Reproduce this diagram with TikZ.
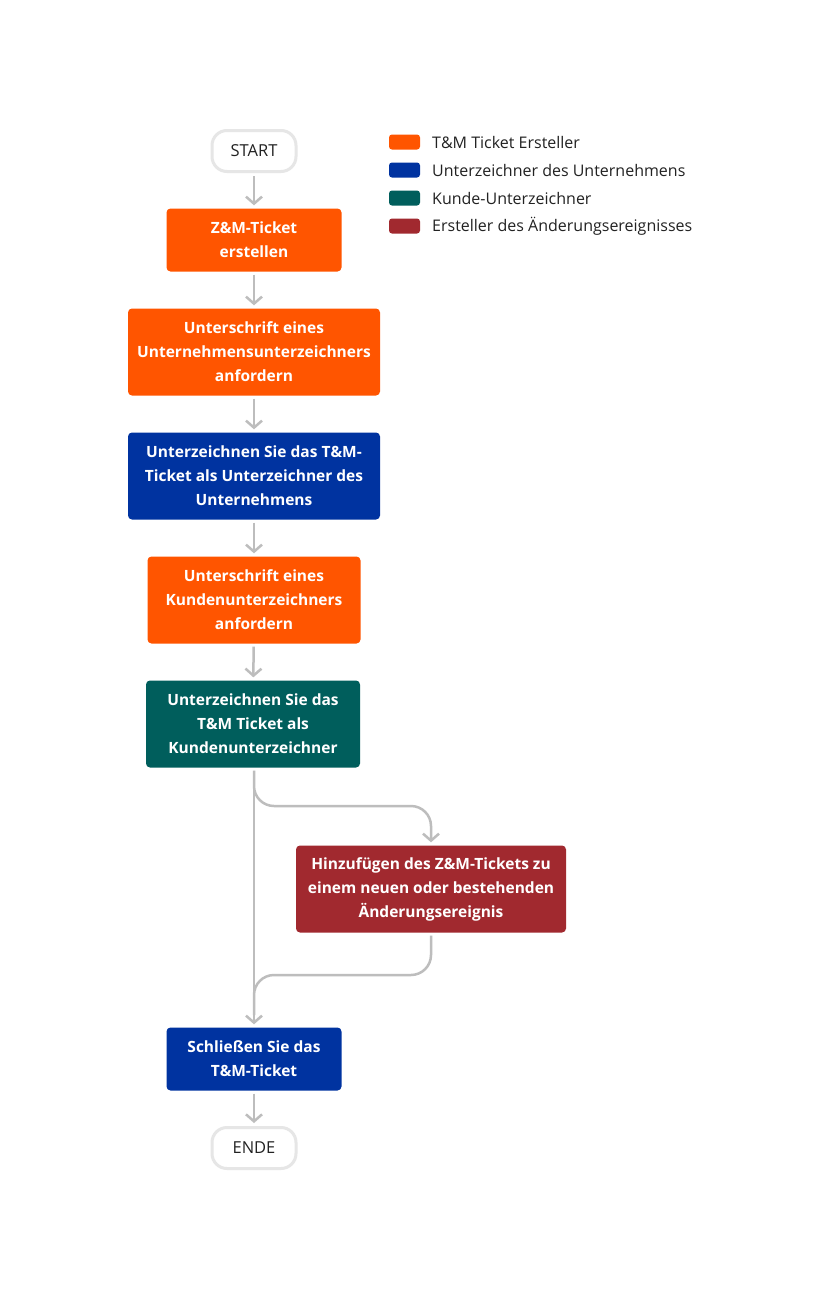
\documentclass[tikz,border=0pt]{standalone}
\usepackage{fontspec}
\setmainfont{Open Sans}
\usetikzlibrary{arrows.meta,calc}
\definecolor{orng}{HTML}{FF5500}
\definecolor{blu}{HTML}{0033A0}
\definecolor{teal2}{HTML}{005E5C}
\definecolor{redd}{HTML}{A1292F}
\definecolor{lgray}{HTML}{BDBDBD}
\definecolor{pill}{HTML}{E6E6E6}
\definecolor{txt}{HTML}{222222}
\begin{document}
\begin{tikzpicture}[x=1pt,y=-1pt,
  box/.style={rounded corners=4pt,text=white,font=\bfseries\fontsize{15.5}{24}\selectfont,align=center,inner sep=0pt},
  term/.style={draw=pill,line width=3pt,rounded corners=15pt,fill=white,text=txt,font=\fontsize{16.5}{18}\selectfont,minimum width=84pt,minimum height=41pt,inner sep=0pt},
  arr/.style={draw=lgray,line width=2.5pt,-{Straight Barb[length=7pt,width=16pt,line width=2.5pt]},shorten >=3pt,shorten <=3pt},
  ln/.style={draw=lgray,line width=2.5pt},
  sw/.style={rounded corners=3pt,minimum width=31pt,minimum height=15pt,inner sep=0pt},
  lg/.style={anchor=west,text=txt,font=\fontsize{16}{18}\selectfont,inner sep=0pt}]
\useasboundingbox (0,0) rectangle (824,1299);
\fill[white] (0,0) rectangle (824,1299);

\node[term] (start) at (254,151) {START};
\node[box,fill=orng,minimum width=175pt,minimum height=63pt] (b1) at (254,240) {Z\&M-Ticket\\erstellen};
\node[box,fill=orng,minimum width=252pt,minimum height=87pt] (b2) at (254,352) {Unterschrift eines\\Unternehmensunterzeichners\\anfordern};
\node[box,fill=blu,minimum width=252pt,minimum height=87pt] (b3) at (254,476) {Unterzeichnen Sie das T\&M-\\Ticket als Unterzeichner des\\Unternehmens};
\node[box,fill=orng,minimum width=213pt,minimum height=87pt] (b4) at (254,600) {Unterschrift eines\\Kundenunterzeichners\\anfordern};
\node[box,fill=teal2,minimum width=214pt,minimum height=87pt] (b5) at (253,724) {Unterzeichnen Sie das\\T\&M Ticket als\\Kundenunterzeichner};
\node[box,fill=redd,minimum width=270pt,minimum height=87pt] (b6) at (431,889) {Hinzufügen des Z\&M-Tickets zu\\einem neuen oder bestehenden\\Änderungsereignis};
\node[box,fill=blu,minimum width=175pt,minimum height=63pt] (b7) at (254,1059) {Schließen Sie das\\T\&M-Ticket};
\node[term] (end) at (254,1148) {ENDE};

\draw[arr] (start) -- (b1);
\draw[arr] (b1) -- (b2);
\draw[arr] (b2) -- (b3);
\draw[arr] (b3) -- (b4);
\draw[arr] (b4) -- (b5);
\draw[arr] (b7) -- (end);
\draw[arr] (b7.north |- b5.south) -- (b7.north);
\draw[arr,rounded corners=20pt] (b7.north |- b5.south) -- (254,806) -- (b6.north |- 0,806) -- (b6.north);
\draw[ln,rounded corners=20pt] ($(b6.south)+(0,3)$) -- (b6.south |- 0,975) -- (254,975) -- (254,1015);

\node[sw,fill=orng] (l1) at (404.5,142) {};
\node[sw,fill=blu] (l2) at (404.5,170) {};
\node[sw,fill=teal2] (l3) at (404.5,198) {};
\node[sw,fill=redd] (l4) at (404.5,226) {};
\node[lg] (t1) at (432,142) {T\&M Ticket Ersteller};
\node[lg] (t2) at (432,170) {Unterzeichner des Unternehmens};
\node[lg] (t3) at (432,198) {Kunde-Unterzeichner};
\node[lg] (t4) at (432,226) {Ersteller des Änderungsereignisses};
\end{tikzpicture}
\end{document}
